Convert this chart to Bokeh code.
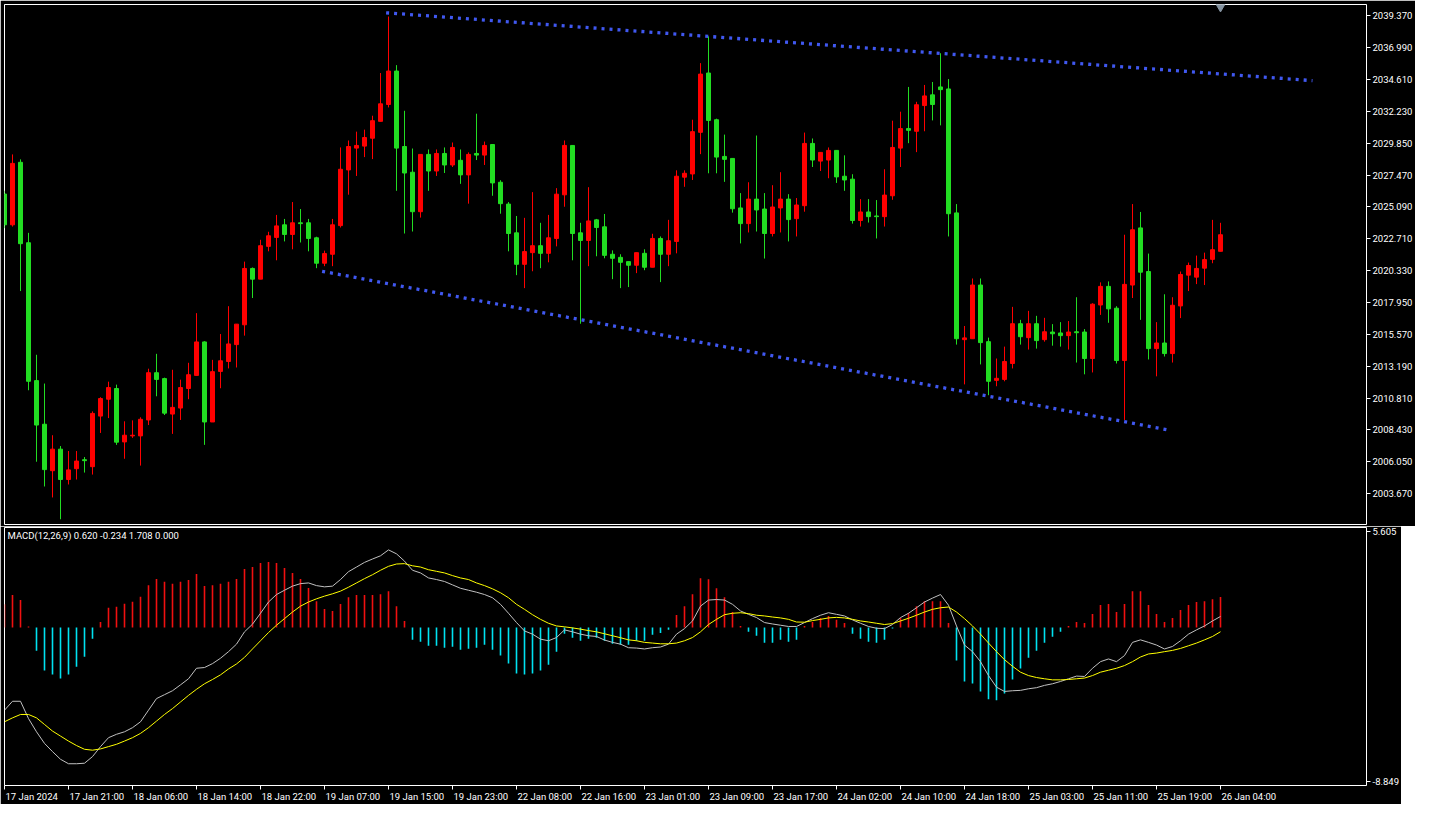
from bokeh.plotting import figure
from bokeh.layouts import column
from bokeh.models import Range1d, FixedTicker, PrintfTickFormatter, Label
from bokeh.embed import file_html
from bokeh.resources import INLINE

# ---------------- data (hourly XAUUSD bars, 17 Jan 13:00 .. 26 Jan 04:00) ----------------
open_ = [2026.05, 2023.75, 2028.42, 2022.41, 2012.11, 2008.85, 2005.38, 2006.99, 2004.72, 2005.53,
         2006.20, 2005.68, 2009.46, 2010.72, 2011.52, 2007.53, 2007.98, 2007.98, 2009.17, 2012.70,
         2012.26, 2009.61, 2010.06, 2011.52, 2012.50, 2015.00, 2009.02, 2012.80, 2013.54, 2014.80,
         2016.28, 2020.49, 2019.69, 2022.14, 2022.81, 2023.75, 2023.03, 2023.90, 2023.90, 2022.78,
         2020.88, 2021.55, 2023.69, 2027.85, 2029.48, 2029.63, 2030.22, 2031.48, 2032.74, 2035.24,
         2029.60, 2027.68, 2024.73, 2029.01, 2027.77, 2029.08, 2028.22, 2028.57, 2027.48, 2029.08,
         2028.96, 2029.75, 2026.93, 2025.30, 2023.15, 2020.80, 2021.67, 2022.19, 2021.62, 2022.73,
         2025.99, 2029.68, 2023.15, 2022.58, 2024.12, 2023.60, 2021.55, 2021.32, 2021.00, 2020.73,
         2021.62, 2020.58, 2022.73, 2021.55, 2022.51, 2027.31, 2027.55, 2030.66, 2035.09, 2031.60,
         2028.86, 2028.71, 2025.01, 2023.84, 2025.67, 2024.93, 2023.10, 2025.01, 2025.67, 2024.21,
         2025.18, 2029.83, 2028.51, 2028.59, 2029.31, 2027.38, 2027.16, 2024.07, 2024.71, 2024.41,
         2024.36, 2025.92, 2029.48, 2030.94, 2030.74, 2032.66, 2033.46, 2034.05, 2033.90, 2024.64,
         2015.17, 2015.24, 2019.25, 2015.02, 2012.13, 2012.20, 2013.39, 2016.36, 2015.32, 2016.36,
         2015.17, 2015.74, 2015.67, 2015.47, 2015.76, 2015.74, 2013.76, 2017.76, 2019.15, 2017.52,
         2013.61, 2019.25, 2023.52, 2020.26, 2014.50, 2014.92, 2014.13, 2017.69, 2019.99, 2019.84,
         2020.51, 2021.17, 2021.77]
high = [2026.30, 2029.01, 2028.64, 2023.15, 2014.04, 2011.89, 2008.03, 2007.22, 2006.85, 2006.85,
        2006.40, 2009.81, 2010.87, 2012.03, 2011.81, 2009.07, 2009.14, 2009.37, 2013.00, 2014.11,
        2012.33, 2012.92, 2012.18, 2013.44, 2017.15, 2015.05, 2013.66, 2015.59, 2017.67, 2016.33,
        2021.00, 2020.56, 2022.63, 2023.23, 2024.49, 2024.19, 2025.45, 2024.93, 2024.19, 2022.86,
        2021.82, 2024.19, 2029.53, 2030.05, 2030.71, 2030.86, 2031.90, 2035.09, 2039.31, 2035.68,
        2032.27, 2029.45, 2029.01, 2029.38, 2029.38, 2029.53, 2029.90, 2029.38, 2029.16, 2032.05,
        2029.97, 2029.75, 2027.08, 2025.45, 2024.41, 2024.27, 2026.19, 2023.90, 2024.49, 2026.49,
        2030.05, 2029.68, 2023.90, 2026.56, 2024.19, 2024.56, 2021.84, 2021.55, 2021.00, 2021.67,
        2021.92, 2023.08, 2022.88, 2024.12, 2027.82, 2027.82, 2031.60, 2035.83, 2037.83, 2031.68,
        2030.49, 2028.71, 2026.12, 2026.93, 2030.42, 2026.12, 2026.71, 2027.68, 2026.04, 2025.75,
        2030.64, 2030.20, 2029.16, 2029.53, 2029.31, 2028.94, 2027.53, 2025.67, 2025.67, 2025.60,
        2027.90, 2031.53, 2032.20, 2034.05, 2032.94, 2034.20, 2034.42, 2036.57, 2034.64, 2025.30,
        2016.19, 2019.74, 2019.74, 2015.32, 2013.76, 2014.65, 2017.62, 2016.65, 2017.32, 2016.95,
        2016.80, 2016.33, 2016.48, 2016.56, 2018.34, 2015.96, 2017.89, 2019.45, 2019.52, 2017.67,
        2023.01, 2025.30, 2024.71, 2021.60, 2016.48, 2018.56, 2018.34, 2020.26, 2020.93, 2021.45,
        2021.67, 2024.12, 2023.90]
low = [2023.50, 2023.62, 2018.80, 2011.39, 2006.05, 2004.20, 2003.38, 2001.75, 2004.35, 2004.72,
       2005.24, 2005.09, 2008.20, 2009.31, 2007.31, 2006.27, 2007.83, 2005.76, 2008.79, 2010.94,
       2009.54, 2008.13, 2009.17, 2010.72, 2012.50, 2007.31, 2009.02, 2011.54, 2013.02, 2013.09,
       2015.47, 2018.28, 2019.69, 2021.77, 2021.10, 2022.51, 2021.92, 2022.43, 2021.77, 2020.51,
       2020.66, 2020.66, 2023.55, 2026.00, 2027.40, 2028.81, 2028.66, 2031.48, 2032.52, 2026.29,
       2023.10, 2023.25, 2024.29, 2026.29, 2027.40, 2027.62, 2028.07, 2026.81, 2025.33, 2028.59,
       2028.22, 2025.92, 2024.58, 2021.77, 2019.99, 2019.02, 2020.28, 2020.51, 2020.95, 2022.14,
       2025.10, 2021.10, 2016.36, 2020.66, 2021.40, 2021.25, 2019.69, 2019.02, 2019.10, 2020.14,
       2020.36, 2020.58, 2019.47, 2020.66, 2021.62, 2026.59, 2027.10, 2029.03, 2027.60, 2027.60,
       2026.96, 2024.66, 2022.36, 2023.18, 2023.25, 2021.23, 2022.88, 2023.18, 2022.51, 2022.88,
       2024.73, 2028.07, 2027.77, 2027.23, 2026.88, 2026.29, 2023.84, 2023.62, 2023.92, 2022.73,
       2023.62, 2025.62, 2028.07, 2029.85, 2029.18, 2030.74, 2031.55, 2031.18, 2022.88, 2014.80,
       2011.83, 2015.24, 2013.32, 2011.02, 2011.69, 2012.06, 2013.02, 2014.80, 2014.43, 2014.50,
       2015.02, 2014.72, 2014.65, 2014.43, 2013.46, 2012.58, 2012.72, 2017.02, 2016.43, 2013.39,
       2009.17, 2018.28, 2016.65, 2013.69, 2012.43, 2013.91, 2013.46, 2016.78, 2018.80, 2019.32,
       2019.25, 2020.88, 2021.77]
close = [2023.75, 2028.34, 2022.34, 2012.06, 2008.79, 2005.46, 2006.99, 2004.72, 2005.44, 2006.10,
         2006.13, 2009.66, 2010.77, 2011.59, 2007.51, 2008.03, 2008.03, 2009.22, 2012.70, 2012.20,
         2009.68, 2010.11, 2011.59, 2012.55, 2015.00, 2009.02, 2012.78, 2013.59, 2014.85, 2016.33,
         2020.49, 2019.69, 2022.19, 2022.93, 2023.67, 2023.03, 2023.90, 2023.84, 2022.73, 2020.88,
         2021.60, 2023.75, 2027.90, 2029.60, 2029.68, 2030.27, 2031.53, 2032.79, 2035.24, 2029.48,
         2027.62, 2024.73, 2029.01, 2027.77, 2029.08, 2028.22, 2029.53, 2027.48, 2029.01, 2028.96,
         2029.68, 2026.88, 2025.33, 2023.10, 2020.80, 2021.75, 2022.19, 2021.62, 2022.78, 2026.04,
         2029.68, 2023.10, 2022.58, 2024.04, 2023.55, 2021.47, 2021.25, 2020.95, 2020.73, 2021.67,
         2020.58, 2022.73, 2021.55, 2022.56, 2027.38, 2027.60, 2030.71, 2035.01, 2031.55, 2028.81,
         2028.64, 2024.95, 2023.84, 2025.67, 2024.86, 2023.10, 2025.08, 2025.67, 2024.14, 2025.23,
         2029.83, 2028.59, 2029.16, 2029.31, 2027.33, 2027.10, 2024.07, 2024.71, 2024.36, 2024.36,
         2025.97, 2029.53, 2030.94, 2030.81, 2032.72, 2033.38, 2032.74, 2033.85, 2024.58, 2015.24,
         2015.30, 2019.25, 2014.95, 2012.06, 2012.28, 2013.54, 2016.36, 2015.39, 2016.36, 2015.10,
         2015.76, 2015.61, 2015.47, 2015.74, 2015.69, 2013.76, 2017.82, 2019.15, 2017.47, 2013.61,
         2019.30, 2023.38, 2020.21, 2014.50, 2014.92, 2014.13, 2017.74, 2020.04, 2020.71, 2020.49,
         2021.15, 2021.89, 2023.01]

macd_main = [-4.63, -4.13, -4.13, -5.10, -5.84, -6.49, -6.95, -7.38, -7.63, -7.63,
             -7.60, -7.23, -6.67, -6.17, -5.98, -5.84, -5.61, -5.28, -4.63, -3.98,
             -3.76, -3.54, -3.21, -2.87, -2.28, -2.24, -2.02, -1.72, -1.35, -0.93,
             -0.24, 0.19, 0.80, 1.43, 1.85, 2.09, 2.32, 2.46, 2.50, 2.35,
             2.28, 2.32, 2.69, 3.13, 3.39, 3.65, 3.84, 4.02, 4.35, 4.13,
             3.72, 3.21, 3.06, 2.78, 2.69, 2.58, 2.39, 2.20, 2.09, 1.98,
             1.85, 1.67, 1.30, 0.80, 0.28, -0.19, -0.37, -0.65, -0.74, -0.56,
             -0.13, -0.24, -0.37, -0.46, -0.50, -0.70, -0.83, -0.93, -1.13, -1.15,
             -1.20, -1.13, -1.09, -0.93, -0.37, -0.06, 0.37, 1.20, 1.54, 1.57,
             1.54, 1.30, 0.93, 0.74, 0.56, 0.28, 0.20, 0.13, 0.06, 0.06,
             0.28, 0.50, 0.69, 0.83, 0.74, 0.65, 0.43, 0.24, 0.06, -0.04,
             -0.06, 0.17, 0.56, 0.80, 1.11, 1.43, 1.65, 1.85, 1.25, 0.09,
             -0.98, -1.35, -1.91, -2.69, -3.34, -3.58, -3.54, -3.52, -3.43, -3.37,
             -3.24, -3.15, -3.02, -2.87, -2.72, -2.74, -2.28, -1.91, -1.76, -1.91,
             -1.57, -0.83, -0.69, -0.83, -0.98, -1.20, -1.06, -0.74, -0.37, -0.13,
             0.09, 0.37, 0.62]
macd_signal = [-5.28, -5.06, -4.87, -4.87, -5.06, -5.43, -5.80, -6.08, -6.36, -6.61,
               -6.82, -6.87, -6.80, -6.67, -6.54, -6.36, -6.17, -5.93, -5.61, -5.24,
               -4.87, -4.54, -4.17, -3.80, -3.46, -3.15, -2.91, -2.65, -2.32, -2.04,
               -1.67, -1.20, -0.74, -0.28, 0.13, 0.50, 0.87, 1.20, 1.43, 1.61,
               1.76, 1.89, 2.04, 2.26, 2.50, 2.74, 2.96, 3.21, 3.43, 3.56,
               3.58, 3.46, 3.39, 3.24, 3.15, 3.06, 2.91, 2.78, 2.69, 2.50,
               2.35, 2.17, 1.95, 1.67, 1.30, 1.02, 0.72, 0.46, 0.24, 0.09,
               0.04, -0.02, -0.09, -0.17, -0.24, -0.35, -0.46, -0.57, -0.69, -0.74,
               -0.83, -0.87, -0.91, -0.91, -0.87, -0.74, -0.56, -0.24, 0.17, 0.46,
               0.72, 0.80, 0.83, 0.78, 0.69, 0.65, 0.59, 0.54, 0.46, 0.31,
               0.30, 0.39, 0.46, 0.54, 0.57, 0.54, 0.46, 0.37, 0.31, 0.24,
               0.17, 0.22, 0.37, 0.52, 0.69, 0.87, 1.02, 1.11, 1.15, 0.87,
               0.50, 0.09, -0.37, -0.87, -1.35, -1.80, -2.17, -2.50, -2.69, -2.80,
               -2.87, -2.93, -2.93, -2.91, -2.87, -2.83, -2.69, -2.50, -2.39, -2.28,
               -2.13, -1.91, -1.65, -1.48, -1.43, -1.35, -1.28, -1.17, -1.02, -0.87,
               -0.69, -0.50, -0.234]
macd_hist = [1.30, 1.82, 1.54, 0.06, -1.30, -2.41, -2.63, -2.85, -2.63, -2.19,
             -1.63, -0.63, 0.31, 1.11, 1.17, 1.33, 1.45, 1.72, 2.37, 2.72,
             2.56, 2.45, 2.56, 2.67, 3.00, 2.33, 2.37, 2.45, 2.56, 2.72,
             3.28, 3.39, 3.61, 3.67, 3.61, 3.34, 3.06, 2.72, 2.22, 1.48,
             1.04, 0.93, 1.32, 1.70, 1.82, 1.82, 1.82, 1.87, 2.04, 1.20,
             0.37, -0.69, -0.80, -1.02, -1.02, -1.13, -1.07, -1.24, -1.19, -1.13,
             -0.96, -1.24, -1.57, -2.02, -2.58, -2.63, -2.58, -2.41, -2.08, -1.35,
             -0.35, -0.57, -0.74, -0.63, -0.57, -0.74, -0.91, -0.96, -0.96, -0.74,
             -0.74, -0.41, -0.30, -0.13, 0.70, 1.20, 1.87, 2.76, 2.71, 2.20,
             1.70, 0.87, 0.09, -0.24, -0.46, -0.85, -0.85, -0.69, -0.80, -0.69,
             0.09, 0.31, 0.54, 0.65, 0.43, 0.26, -0.35, -0.63, -0.80, -0.85,
             -0.69, -0.05, 0.54, 0.82, 1.20, 1.48, 1.48, 1.48, 0.26, -1.85,
             -3.02, -3.13, -3.58, -4.02, -4.08, -3.69, -2.91, -2.30, -1.69, -1.30,
             -0.85, -0.52, -0.24, 0.09, 0.31, 0.26, 0.76, 1.26, 1.32, 0.87,
             1.32, 2.04, 2.04, 1.26, 0.76, 0.31, 0.54, 0.98, 1.26, 1.43,
             1.48, 1.59, 1.708]

time_labels = ["17 Jan 2024", "17 Jan 21:00", "18 Jan 06:00", "18 Jan 14:00", "18 Jan 22:00",
               "19 Jan 07:00", "19 Jan 15:00", "19 Jan 23:00", "22 Jan 08:00", "22 Jan 16:00",
               "23 Jan 01:00", "23 Jan 09:00", "23 Jan 17:00", "24 Jan 02:00", "24 Jan 10:00",
               "24 Jan 18:00", "25 Jan 03:00", "25 Jan 11:00", "25 Jan 19:00", "26 Jan 04:00"]
time_label_bars = [0, 8, 16, 24, 32, 40, 48, 56, 64, 72, 80, 88, 96, 104, 112, 120, 128, 136, 144, 152]

price_ticks = [2003.670, 2006.050, 2008.430, 2010.810, 2013.190, 2015.570, 2017.950, 2020.330,
               2022.710, 2025.090, 2027.470, 2029.850, 2032.230, 2034.610, 2036.990, 2039.370]
price_range = [2001.36, 2040.21]
macd_range = [-8.849, 5.605]
macd_legend = "MACD(12,26,9) 0.620 -0.234 1.708 0.000"

# trend lines drawn on the chart (bar index, price)
upper_trend_x = [47.7, 163.5]
upper_trend_y = [2039.59, 2034.52]
lower_trend_x = [39.7, 145.7]
lower_trend_y = [2020.28, 2008.40]

# ---------------- styling ----------------
UP = "#FF0000"
DOWN = "#22DD22"
HIST_UP = "#F01010"
HIST_DN = "#00E2F0"
TREND = "#4058F0"
FONT = "Roboto"
FS_PX = 9.5
FS = "%.1fpx" % FS_PX
PX_PER_BAR = 8.0

N = len(open_)
idx = list(range(N))
cols = [UP if c >= o else DOWN for o, c in zip(open_, close)]
body_top = [max(o, c) for o, c in zip(open_, close)]
body_bot = [min(o, c) for o, c in zip(open_, close)]

FW = 1362
xr = Range1d(0.0, FW / PX_PER_BAR)

# approximate Roboto advance widths (em) to left-align time labels after their tick
ADV = {" ": 0.248, ":": 0.242, "J": 0.551, "a": 0.543, "n": 0.551}


def text_w(s):
    return sum(ADV.get(ch, 0.5615) for ch in s) * FS_PX


def style(fig):
    fig.xgrid.visible = False
    fig.ygrid.visible = False
    fig.outline_line_color = "white"
    fig.outline_line_width = 1
    fig.min_border_left = 4
    fig.min_border_right = 0


def style_y(ax):
    ax.axis_line_color = None
    ax.major_tick_line_color = "white"
    ax.major_tick_out = 4
    ax.major_tick_in = 0
    ax.minor_tick_line_color = None
    ax.major_label_text_color = "white"
    ax.major_label_text_font = FONT
    ax.major_label_text_font_size = FS
    ax.major_label_standoff = 2


# ---------------- price panel ----------------
p = figure(frame_width=FW, frame_height=520, x_range=xr,
           y_range=Range1d(price_range[0], price_range[1]),
           output_backend="svg", toolbar_location=None,
           background_fill_color="black", border_fill_color="black",
           y_axis_location="right", x_axis_location=None,
           min_border_top=4, min_border_bottom=2)
style(p)

p.segment(x0=idx, y0=low, x1=idx, y1=high, line_color=cols, line_width=1)
p.vbar(x=idx, top=body_top, bottom=body_bot, width=0.5,
       fill_color=cols, line_color=cols, line_width=1)

p.line(upper_trend_x, upper_trend_y, line_color=TREND, line_width=3.3,
       line_dash="3 5", line_cap="butt")
p.line(lower_trend_x, lower_trend_y, line_color=TREND, line_width=3.3,
       line_dash="3 5", line_cap="butt")

# last-bar shift marker at top
p.scatter([N - 1], [price_range[1] - 0.17], marker="inverted_triangle", size=9,
          fill_color="#8593A0", line_color="#8593A0")

ya = p.yaxis[0]
ya.ticker = FixedTicker(ticks=price_ticks)
ya.formatter = PrintfTickFormatter(format="%.3f")
style_y(ya)

# ---------------- MACD panel ----------------
q = figure(frame_width=FW, frame_height=258, x_range=xr,
           y_range=Range1d(macd_range[0], macd_range[1]),
           output_backend="svg", toolbar_location=None,
           background_fill_color="black", border_fill_color="black",
           y_axis_location="right", x_axis_location="below",
           min_border_top=1, min_border_bottom=4)
style(q)

hcols = [HIST_UP if h >= 0 else HIST_DN for h in macd_hist]
q.vbar(x=idx, top=macd_hist, bottom=0, width=0.2, fill_color=hcols, line_color=None)
q.line(idx, macd_main, line_color="#C0C0C0", line_width=1)
q.line(idx, macd_signal, line_color="#FFFF00", line_width=1)

top_tick = macd_range[1] - 0.23
bot_tick = macd_range[0] + 0.23
qa = q.yaxis[0]
qa.ticker = FixedTicker(ticks=[bot_tick, top_tick])
qa.major_label_overrides = {bot_tick: "%.3f" % macd_range[0], top_tick: "%.3f" % macd_range[1]}
style_y(qa)

# time axis: tick marks drawn as minor ticks at the bars, labels centred so that
# they start just right of their tick (MetaTrader style)
label_pos = [round(b + (1.0 + text_w(t) / 2.0) / PX_PER_BAR, 4)
             for b, t in zip(time_label_bars, time_labels)]
xa = q.xaxis[0]
xa.ticker = FixedTicker(ticks=label_pos, minor_ticks=time_label_bars)
xa.major_label_overrides = {pos: t for pos, t in zip(label_pos, time_labels)}
xa.axis_line_color = None
xa.major_tick_line_color = None
xa.major_tick_out = 4
xa.major_tick_in = 0
xa.minor_tick_line_color = "white"
xa.minor_tick_out = 4
xa.minor_tick_in = 0
xa.major_label_text_color = "white"
xa.major_label_text_font = FONT
xa.major_label_text_font_size = FS
xa.major_label_standoff = 1

q.add_layout(Label(x=0.375, y=macd_range[1] - 0.12, text=macd_legend,
                   text_align="left", text_baseline="top",
                   text_color="white", text_font=FONT, text_font_size=FS))

layout = column(p, q, spacing=0)
open("out.html", "w").write(file_html(layout, INLINE))
